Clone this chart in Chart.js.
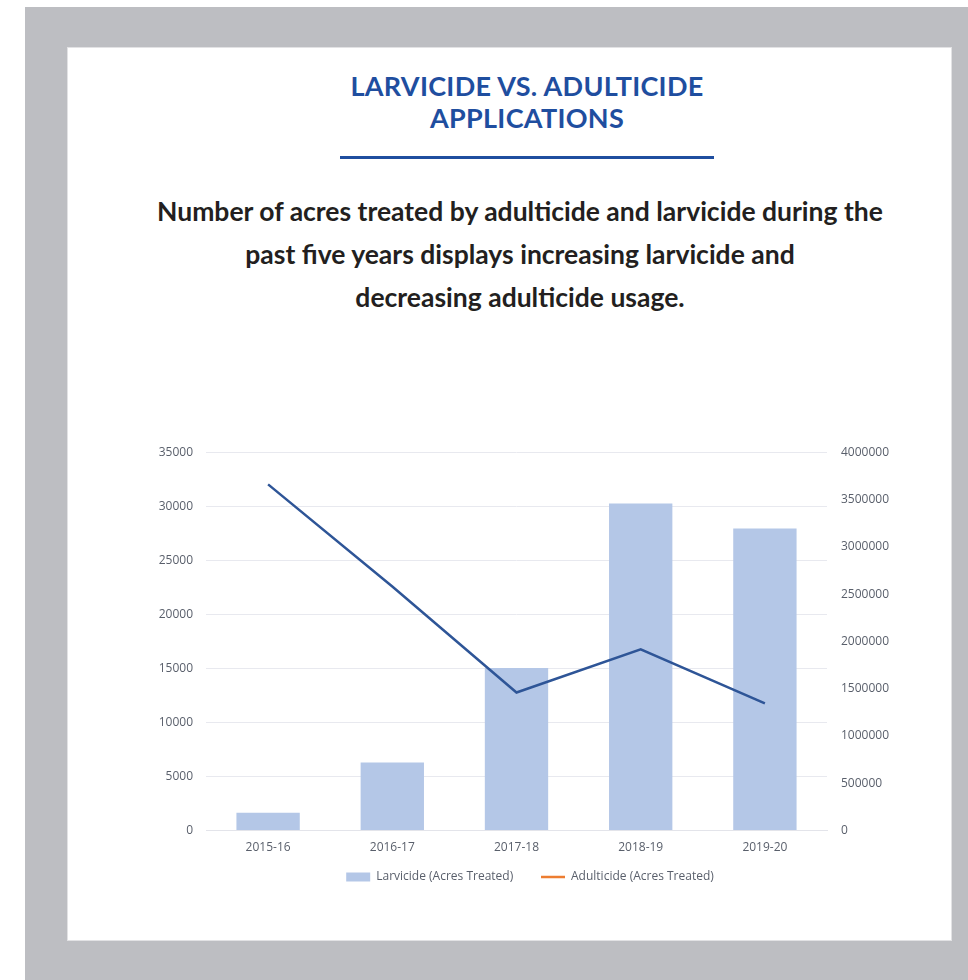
<!DOCTYPE html>
<html>
<head>
<meta charset="utf-8">
<script src="https://cdn.jsdelivr.net/npm/chart.js@4.4.0/dist/chart.umd.min.js"></script>
<style>
  html, body { margin:0; padding:0; width:968px; height:980px; background:#fff; overflow:hidden; }
  #frame { position:absolute; left:25px; top:7px; width:943px; height:973px; background:#bdbec2; }
  #card { position:absolute; left:68px; top:48px; width:883px; height:892px; background:#fff; box-shadow:0 0 0 1px #e2e2e4; }
  #title { position:absolute; left:68px; width:918px; top:70px; text-align:center; font-family:Lato, sans-serif; font-weight:700;
    font-size:27px; line-height:32px; color:#1f4e9f; letter-spacing:0.3px; }
  #rule { position:absolute; left:340px; top:156px; width:374px; height:3px; background:#1f4e9f; }
  #subtitle { position:absolute; left:68px; width:904px; top:190px; text-align:center; font-family:Lato, sans-serif; font-weight:700;
    font-size:26.5px; line-height:43px; color:#231f20; }
  #wrap { position:absolute; left:140px; top:431px; width:780px; height:462px; }
</style>
</head>
<body>
<div id="frame"></div>
<div id="card"></div>
<div id="title">LARVICIDE VS. ADULTICIDE<br>APPLICATIONS</div>
<div id="rule"></div>
<div id="subtitle">Number of acres treated by adulticide and larvicide during the<br>past five years displays increasing larvicide and<br>decreasing adulticide usage.</div>
<div id="wrap"><canvas id="chart"></canvas></div>
<script>
// categories and values
const seasons = ["2015-16", "2016-17", "2017-18", "2018-19", "2019-20"];
const larvicideAcres = [1650, 6300, 15050, 30250, 27950];
const adulticideAcres = [3660000, 2580000, 1460000, 1915000, 1345000];
const leftTicks = [0, 5000, 10000, 15000, 20000, 25000, 30000, 35000];
const rightTicks = [0, 500000, 1000000, 1500000, 2000000, 2500000, 3000000, 3500000, 4000000];

const tickFont = { family: "'Open Sans', sans-serif", size: 12 };
const tickColor = '#595f6b';

// plain numbers on the axes, no thousands separators
function plain(val){ return String(val); }

function renderChart(){
  const ctx = document.getElementById('chart').getContext('2d');
  new Chart(ctx, {
    data: {
      labels: seasons,
      datasets: [
        {
          type: 'line',
          label: 'Adulticide (Acres Treated)',
          data: adulticideAcres,
          yAxisID: 'y2',
          borderColor: '#2e5597',
          borderWidth: 2.5,
          pointRadius: 0,
          tension: 0,
          order: 0
        },
        {
          type: 'bar',
          label: 'Larvicide (Acres Treated)',
          data: larvicideAcres,
          yAxisID: 'y',
          backgroundColor: '#b4c7e7',
          categoryPercentage: 1,
          barPercentage: 0.51,
          order: 1
        }
      ]
    },
    options: {
      responsive: true,
      maintainAspectRatio: false,
      animation: false,
      layout: { padding: { top: 0 } },
      plugins: {
        tooltip: { enabled: false },
        legend: {
          position: 'bottom',
          labels: {
            font: tickFont,
            color: tickColor,
            usePointStyle: true,
            pointStyleWidth: 24,
            boxHeight: 9,
            padding: 6,
            // bar first, then the line (drawn orange in the source legend);
            // trailing spaces widen the gap between the two entries
            generateLabels: function(chart){
              return [
                { text: 'Larvicide (Acres Treated)       ', pointStyle: 'rect', fillStyle: '#b4c7e7', strokeStyle: '#b4c7e7', lineWidth: 0, datasetIndex: 1, fontColor: tickColor },
                { text: 'Adulticide (Acres Treated)', pointStyle: 'line', fillStyle: '#ed7d31', strokeStyle: '#ed7d31', lineWidth: 2.5, datasetIndex: 0, fontColor: tickColor }
              ];
            }
          }
        }
      },
      scales: {
        x: {
          grid: { display: false, drawTicks: false },
          border: { display: true, color: '#e3e4ea' },
          ticks: { font: tickFont, color: tickColor, padding: 10 }
        },
        y: {
          position: 'left',
          min: 0, max: 35000,
          afterBuildTicks: function(axis){ axis.ticks = leftTicks.map(v => ({ value: v })); },
          afterFit: function(axis){ axis.width = 66; },
          grid: { color: '#e8e9ef', drawTicks: false },
          border: { display: false },
          ticks: { font: tickFont, color: tickColor, padding: 13, callback: plain }
        },
        y2: {
          position: 'right',
          min: 0, max: 4000000,
          afterBuildTicks: function(axis){ axis.ticks = rightTicks.map(v => ({ value: v })); },
          afterFit: function(axis){ axis.width = 93; },
          grid: { display: false, drawTicks: false },
          border: { display: false },
          ticks: { font: tickFont, color: tickColor, padding: 14, callback: plain }
        }
      }
    }
  });
}

renderChart();
</script>
</body>
</html>
